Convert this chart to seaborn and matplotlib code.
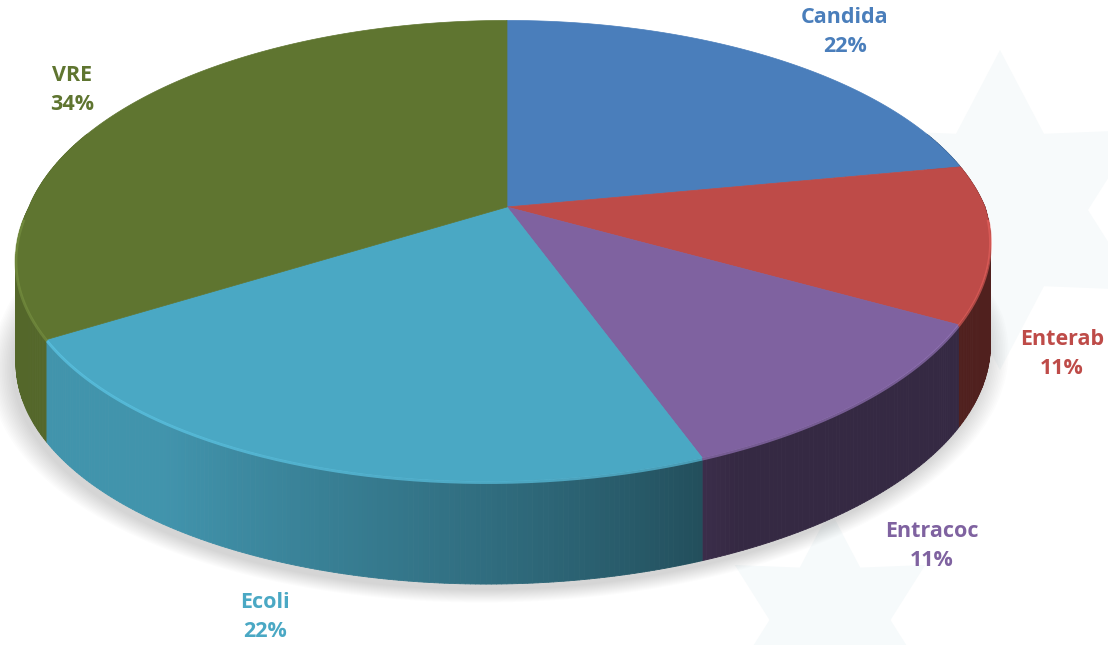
import numpy as np
import matplotlib
matplotlib.use("Agg")
import matplotlib.pyplot as plt
import seaborn as sns
from matplotlib.collections import PolyCollection
from matplotlib.patches import Polygon
import matplotlib.colors as mcolors

# ---------------- data ----------------
categories = ["Candida", "Enterab", "Entracoc", "Ecoli", "VRE"]
values = [22, 11, 11, 22, 34]
pct_labels = ["22%", "11%", "11%", "22%", "34%"]
colors = ["#4a7ebb", "#be4b48", "#7f62a0", "#4aa8c4", "#5f7530"]

# ---------------- layout ----------------
W, H = 1108, 645
CX, CY = 507, 207          # pie centre on screen
A, B, K = 478, 222, 0.19   # half-width, half-height, perspective
SHEAR = 20                 # slight horizontal skew of the near half
DEPTH = 103                # thickness of the pie
label_xy = [(845, 32), (1062, 354), (932, 546), (265, 617), (72, 90)]

sns.set_theme(style="white")
plt.rcParams['font.family'] = ['Open Sans', 'DejaVu Sans']

fig = plt.figure(figsize=(W / 100, H / 100), dpi=100)
ax = fig.add_axes([0, 0, 1, 1])
ax.set_xlim(0, W)
ax.set_ylim(H, 0)
ax.axis('off')


def proj(theta, r=1.0):
    t = np.radians(theta)
    c, s = np.cos(t), np.sin(t)
    w = 1 + K * r * c
    x = CX + A * r * s / w + SHEAR * r * np.minimum(c, 0)
    return x, CY - B * r * c / w


def side_factor(theta):
    z = np.clip((theta - 155) / 60.0, 0, 1) ** 0.8
    return 0.42 + 0.46 * z


total = float(sum(values))
edges = np.concatenate([[0.0], np.cumsum(values)]) / total * 360.0

# ---------------- faint background watermark ----------------
def star(cx, cy, r):
    a = np.radians(np.arange(0, 360, 30) + 90)
    rr = np.where(np.arange(12) % 2 == 0, r, r * 0.55)
    return np.column_stack([cx + rr * np.cos(a), cy - rr * np.sin(a)])

ax.add_patch(Polygon(star(830, 620, 110), closed=True, facecolor="#f6fafb",
                     edgecolor="none", zorder=0))
ax.add_patch(Polygon(star(1000, 210, 160), closed=True, facecolor="#f7fafb",
                     edgecolor="none", zorder=0))

# ---------------- soft shadow ----------------
th = np.linspace(0, 360, 400)
sx, sy = proj(th)
sy = sy + DEPTH
for i in range(14):
    sc = 1.0 + 0.0035 * i
    px = CX - 4 + (sx - CX) * sc
    py = CY + DEPTH + 6 + (sy - CY - DEPTH) * sc
    ax.add_patch(Polygon(np.column_stack([px, py]), closed=True,
                         facecolor="#808080", edgecolor="none", alpha=0.025, zorder=1))

# ---------------- sides ----------------
quads, qcols, qdepth = [], [], []
for k in range(len(values)):
    base = np.array(mcolors.to_rgb(colors[k]))
    ts = np.linspace(edges[k], edges[k + 1], max(int((edges[k + 1] - edges[k]) * 2), 4))
    for t0, t1 in zip(ts[:-1], ts[1:]):
        tm = 0.5 * (t0 + t1)
        if np.cos(np.radians(tm)) > 0.35:
            continue
        x0, y0 = proj(t0)
        x1, y1 = proj(t1)
        quads.append([(x0, y0), (x1, y1), (x1, y1 + DEPTH), (x0, y0 + DEPTH)])
        qcols.append(np.clip(base * side_factor(tm), 0, 1))
        qdepth.append(np.cos(np.radians(tm)))
order = np.argsort(qdepth)[::-1]
pc = PolyCollection([quads[i] for i in order], facecolors=[qcols[i] for i in order],
                    edgecolors=[qcols[i] for i in order], linewidths=0.6, zorder=2)
ax.add_collection(pc)

# ---------------- top faces ----------------
for k in range(len(values)):
    ts = np.linspace(edges[k], edges[k + 1], 200)
    xs, ys = proj(ts)
    pts = np.column_stack([np.r_[CX, xs], np.r_[CY, ys]])
    ax.add_patch(Polygon(pts, closed=True, facecolor=colors[k], edgecolor=colors[k],
                         linewidth=0.5, zorder=3))
    front = np.cos(np.radians(ts)) < -0.05
    if front.any():
        light = np.clip(np.array(mcolors.to_rgb(colors[k])) * 1.18 + 0.04, 0, 1)
        ax.plot(xs[front], ys[front] + 1.5, color=light, lw=2.0, alpha=0.6,
                solid_capstyle='butt', zorder=4)

# ---------------- labels ----------------
for k in range(len(values)):
    x, y = label_xy[k]
    ax.text(x, y, f"{categories[k]}\n{pct_labels[k]}", ha='center', va='center',
            color=colors[k], fontsize=15.5, fontweight='bold', linespacing=1.45, zorder=5)

fig.savefig("out.png", dpi=100, facecolor="white")
